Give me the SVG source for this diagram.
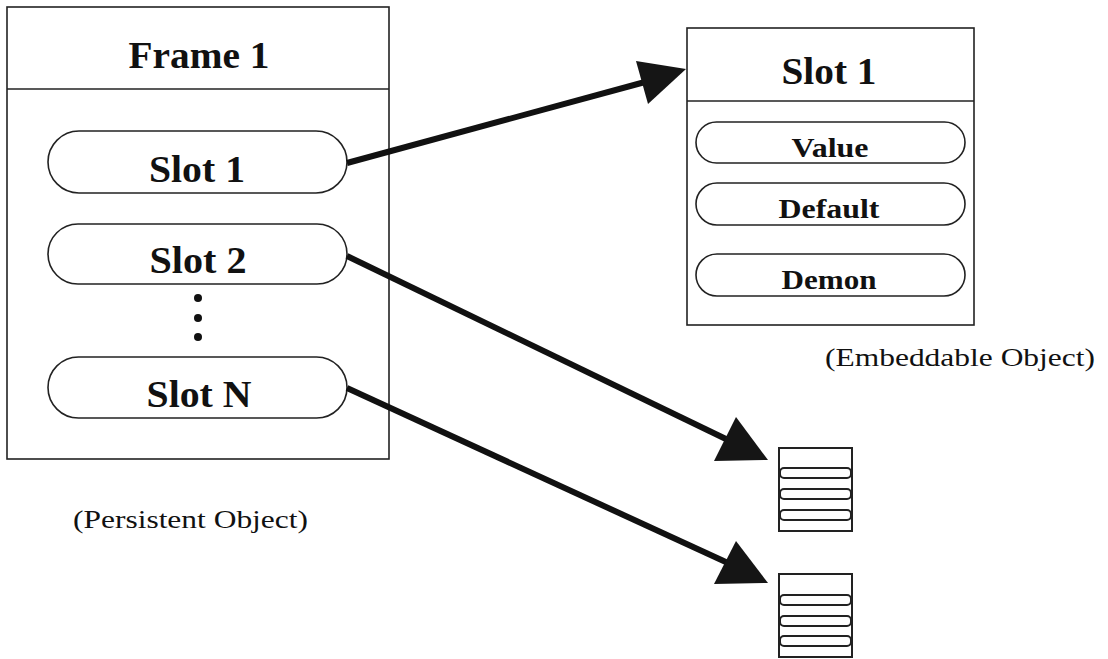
<svg xmlns="http://www.w3.org/2000/svg" width="1108" height="659" viewBox="0 0 1108 659">
<defs>
<style>
.box{fill:#fff;stroke:#222;stroke-width:1.6}
.pill{fill:#fff;stroke:#222;stroke-width:1.6}
.big{font-family:"Liberation Serif","Times New Roman",serif;font-weight:bold;font-size:37px;fill:#111;text-anchor:middle}
.mid{font-family:"Liberation Serif","Times New Roman",serif;font-weight:bold;font-size:27px;fill:#111;text-anchor:middle}
.lbl{font-family:"Liberation Serif","Times New Roman",serif;font-size:25px;fill:#111}
.conn{stroke:#111;stroke-width:6;fill:none}
.head{fill:#151515}
.stk{fill:#fff;stroke:#222;stroke-width:2}
</style>
</defs>
<rect width="1108" height="659" fill="#fff"/>

<g id="frame1">
<rect class="box" x="7" y="7" width="382" height="452"/>
<line class="box" x1="7" y1="89" x2="389" y2="89"/>
<text class="big" x="199" y="68" textLength="141" lengthAdjust="spacingAndGlyphs">Frame 1</text>
</g>

<g id="slot1">
<rect class="pill" x="48" y="131" width="299" height="62" rx="31"/>
<text class="big" x="197" y="182" textLength="96" lengthAdjust="spacingAndGlyphs">Slot 1</text>
</g>
<g id="slot2">
<rect class="pill" x="48" y="224" width="299" height="60" rx="30"/>
<text class="big" x="198" y="273" textLength="97" lengthAdjust="spacingAndGlyphs">Slot 2</text>
</g>
<g id="dots">
<circle cx="198" cy="298" r="4" fill="#111"/>
<circle cx="198" cy="318" r="4" fill="#111"/>
<circle cx="198" cy="337" r="4" fill="#111"/>
</g>
<g id="slotN">
<rect class="pill" x="48" y="357" width="299" height="61" rx="30.5"/>
<text class="big" x="199" y="407" textLength="105" lengthAdjust="spacingAndGlyphs">Slot N</text>
</g>

<g id="persistent-label">
<text class="lbl" x="73" y="528" textLength="235" lengthAdjust="spacingAndGlyphs">(Persistent Object)</text>
</g>

<g id="slot1-detail">
<rect class="box" x="687" y="28" width="287" height="297"/>
<line class="box" x1="687" y1="101" x2="974" y2="101"/>
<text class="big" x="829" y="84" textLength="95" lengthAdjust="spacingAndGlyphs">Slot 1</text>
</g>
<g id="value">
<rect class="pill" x="696" y="122" width="269" height="41" rx="20.5"/>
<text class="mid" x="830" y="157" textLength="77" lengthAdjust="spacingAndGlyphs">Value</text>
</g>
<g id="default">
<rect class="pill" x="696" y="183" width="269" height="42" rx="21"/>
<text class="mid" x="829" y="218" textLength="101" lengthAdjust="spacingAndGlyphs">Default</text>
</g>
<g id="demon">
<rect class="pill" x="696" y="254" width="269" height="42" rx="21"/>
<text class="mid" x="829" y="289" textLength="95" lengthAdjust="spacingAndGlyphs">Demon</text>
</g>

<g id="embeddable-label">
<text class="lbl" x="825" y="366" textLength="270" lengthAdjust="spacingAndGlyphs">(Embeddable Object)</text>
</g>

<g id="stack1">
<rect class="stk" x="779" y="448" width="73" height="83"/>
<rect class="stk" x="780" y="468" width="71" height="10" rx="4"/>
<rect class="stk" x="780" y="489" width="71" height="10" rx="4"/>
<rect class="stk" x="780" y="510" width="71" height="10" rx="4"/>
</g>
<g id="stack2">
<rect class="stk" x="779" y="574" width="73" height="83"/>
<rect class="stk" x="780" y="595" width="71" height="10" rx="4"/>
<rect class="stk" x="780" y="616" width="71" height="10" rx="4"/>
<rect class="stk" x="780" y="636" width="71" height="10" rx="4"/>
</g>

<g id="connectors">
<line class="conn" x1="347" y1="163" x2="645" y2="82"/>
<polygon class="head" points="686,69 636,61 648,104"/>
<line class="conn" x1="347" y1="256" x2="728" y2="440"/>
<polygon class="head" points="768,460 736,417 714,461"/>
<line class="conn" x1="347" y1="388" x2="728" y2="563"/>
<polygon class="head" points="768,583 736,541 714,584"/>
</g>
</svg>
